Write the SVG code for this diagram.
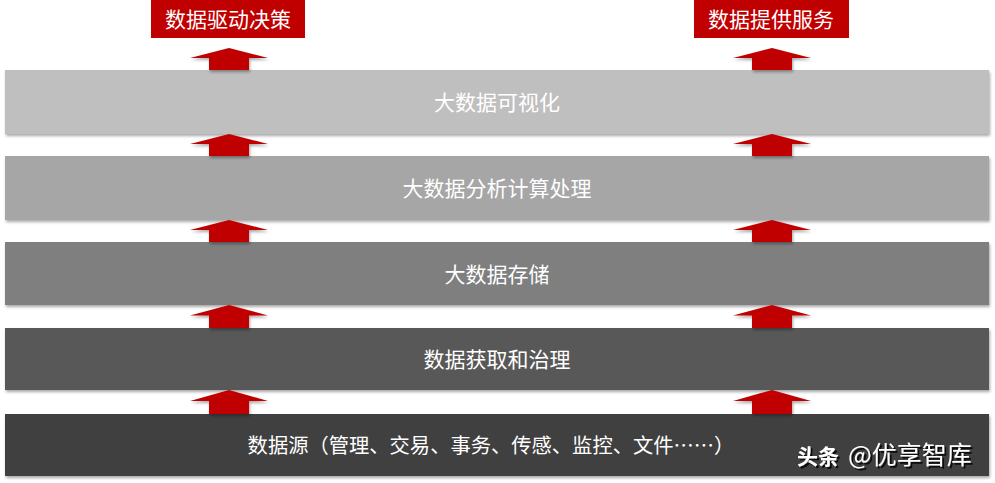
<svg xmlns="http://www.w3.org/2000/svg" width="995" height="483" viewBox="0 0 995 483">
<style>
.t{font-family:"Noto Sans CJK SC","Liberation Sans",sans-serif;font-size:21px;fill:#fff;text-anchor:middle}
.lab{font-family:"Noto Sans CJK SC","Liberation Sans",sans-serif;font-size:21px;fill:#fff;text-anchor:middle}
.arr{fill:#C00000;filter:url(#sh)}
.bar{filter:url(#sh)}
.wm{font-family:"Noto Sans CJK SC","Liberation Sans",sans-serif;fill:#fff}
</style>
<defs>
<filter id="sh" x="-5%" y="-20%" width="110%" height="150%">
<feGaussianBlur in="SourceAlpha" stdDeviation="1.5"/>
<feOffset dx="1" dy="2" result="b"/>
<feComponentTransfer><feFuncA type="linear" slope="0.35"/></feComponentTransfer>
<feMerge><feMergeNode/><feMergeNode in="SourceGraphic"/></feMerge>
</filter>
<filter id="ts" x="-5%" y="-20%" width="110%" height="150%">
<feOffset in="SourceAlpha" dx="1.5" dy="1.5" result="o"/>
<feComponentTransfer in="o"><feFuncA type="linear" slope="0.8"/></feComponentTransfer>
<feMerge><feMergeNode/><feMergeNode in="SourceGraphic"/></feMerge>
</filter>
<path id="ar" d="M -39 10 L 0 0 L 39 10 L 20 10 L 20 22 L -20 22 L -20 10 Z"/>
</defs>
<rect width="995" height="483" fill="#fff"/>
<g id="label-left"><rect x="151" y="0" width="154" height="38" fill="#C00000"/><text class="lab" x="228" y="27">数据驱动决策</text></g>
<g id="label-right"><rect x="694" y="0" width="155" height="38" fill="#C00000"/><text class="lab" x="771" y="27">数据提供服务</text></g>
<g id="layer1"><rect class="bar" x="5" y="70" width="984" height="64" fill="#BFBFBF"/><text class="t" x="497" y="110">大数据可视化</text></g>
<g id="layer2"><rect class="bar" x="5" y="156" width="984" height="64" fill="#A6A6A6"/><text class="t" x="497" y="196">大数据分析计算处理</text></g>
<g id="layer3"><rect class="bar" x="5" y="242" width="984" height="63" fill="#7F7F7F"/><text class="t" x="497" y="282">大数据存储</text></g>
<g id="layer4"><rect class="bar" x="5" y="328" width="984" height="62" fill="#595959"/><text class="t" x="497" y="367">数据获取和治理</text></g>
<g id="layer5"><rect class="bar" x="5" y="414" width="984" height="62" fill="#404040"/><text class="t" x="491" y="453" style="font-size:20.3px">数据源（管理、交易、事务、传感、监控、文件……）</text></g>
<g id="connectors">
<use href="#ar" class="arr" transform="translate(229,48)"/>
<use href="#ar" class="arr" transform="translate(772,48)"/>
<use href="#ar" class="arr" transform="translate(229,134)"/>
<use href="#ar" class="arr" transform="translate(772,134)"/>
<use href="#ar" class="arr" transform="translate(229,220)"/>
<use href="#ar" class="arr" transform="translate(772,220)"/>
<use href="#ar" class="arr" transform="translate(229,305) scale(1,1.045)"/>
<use href="#ar" class="arr" transform="translate(772,305) scale(1,1.045)"/>
<use href="#ar" class="arr" transform="translate(229,390) scale(1,1.09)"/>
<use href="#ar" class="arr" transform="translate(772,390) scale(1,1.09)"/>
</g>
<g filter="url(#ts)">
<text class="wm" x="797" y="464" font-size="21" font-weight="bold">头条</text>
<text class="wm" x="848" y="464" font-size="25">@优享智库</text>
</g>
</svg>
